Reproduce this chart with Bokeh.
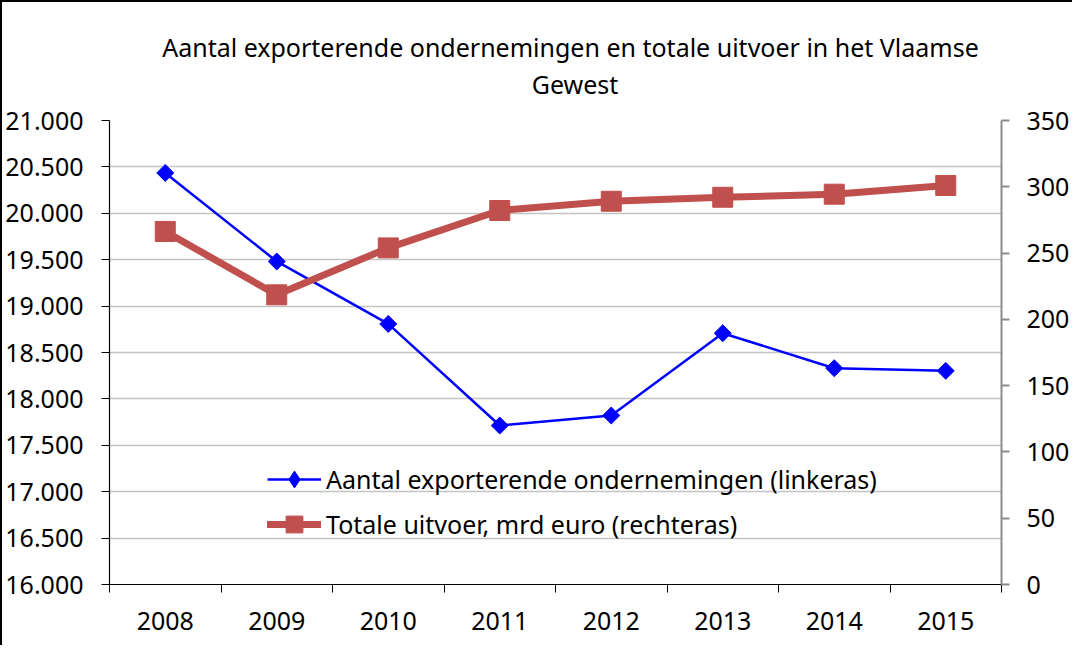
import math
from bokeh.plotting import figure
from bokeh.models import Range1d, LinearAxis, FixedTicker, Legend, LegendItem, Title
from bokeh.embed import file_html
from bokeh.resources import INLINE

# ---- data ----
years = [2008, 2009, 2010, 2011, 2012, 2013, 2014, 2015]
firms = [20435, 19481, 18808, 17713, 17821, 18708, 18331, 18302]          # left axis
exports = [266.3, 218.5, 253.9, 282.1, 289.1, 292.1, 294.4, 301.0]      # right axis, mrd euro

left_ticks = [16000, 16500, 17000, 17500, 18000, 18500, 19000, 19500, 20000, 20500, 21000]
left_labels = ["16.000", "16.500", "17.000", "17.500", "18.000", "18.500",
               "19.000", "19.500", "20.000", "20.500", "21.000"]
right_ticks = [0, 50, 100, 150, 200, 250, 300, 350]

title_line1 = "Aantal exporterende ondernemingen en totale uitvoer in het Vlaamse"
title_line2 = "Gewest"
series1_name = "Aantal exporterende ondernemingen (linkeras)"
series2_name = "Totale uitvoer, mrd euro (rechteras)"

FONT = "Noto Sans"
BLUE = "#0000FF"
RED = "#C0504D"
FS = "25px"

p = figure(width=1072, height=645, output_backend="svg", toolbar_location=None, title=None,
           x_range=Range1d(years[0] - 0.5, years[-1] + 0.5),
           y_range=Range1d(left_ticks[0], left_ticks[-1]),
           min_border_left=107, min_border_right=73, min_border_top=118, min_border_bottom=63)
p.extra_y_ranges = {"right": Range1d(right_ticks[0], right_ticks[-1])}
p.styles = {"border-left": "2px solid black", "border-top": "2px solid black"}
p.outline_line_color = None
p.background_fill_color = "white"
p.border_fill_color = "white"

# grid
p.xgrid.visible = False
p.ygrid.grid_line_color = "#C4C4C4"
p.ygrid.grid_line_width = 1.5

# left axis
ya = p.yaxis[0]
ya.ticker = FixedTicker(ticks=left_ticks)
ya.major_label_overrides = {t: s for t, s in zip(left_ticks, left_labels)}
ya.axis_line_color = "black"
ya.axis_line_width = 1.2
ya.major_tick_line_color = "black"
ya.major_tick_out = 8
ya.major_tick_in = 0
ya.minor_tick_line_color = None
ya.major_label_standoff = 18
ya.major_label_text_font = FONT
ya.major_label_text_font_size = FS
ya.major_label_text_color = "black"

# bottom axis (labels at the years, tick marks between the years)
xa = p.xaxis[0]
xa.ticker = FixedTicker(ticks=years, minor_ticks=[y - 0.5 for y in years] + [years[-1] + 0.5])
xa.axis_line_color = "black"
xa.axis_line_width = 1.2
xa.major_tick_out = 0
xa.major_tick_in = 0
xa.minor_tick_out = 8
xa.minor_tick_in = 0
xa.minor_tick_line_color = "black"
xa.minor_tick_line_width = 1
xa.major_label_standoff = 19
xa.major_label_text_font = FONT
xa.major_label_text_font_size = FS
xa.major_label_text_color = "black"

# right axis
ra = LinearAxis(y_range_name="right", ticker=FixedTicker(ticks=right_ticks))
ra.axis_line_color = "#8C8C8C"
ra.axis_line_width = 2
ra.major_tick_line_color = "#8C8C8C"
ra.major_tick_line_width = 2
ra.major_tick_out = 8
ra.major_tick_in = 0
ra.minor_tick_line_color = None
ra.major_label_standoff = 17
ra.major_label_text_font = FONT
ra.major_label_text_font_size = FS
ra.major_label_text_color = "black"
p.add_layout(ra, "right")

# series
bl = p.line(years, firms, line_color=BLUE, line_width=2.5)
bs = p.scatter(years, firms, marker="square", size=12, angle=math.pi / 4,
               fill_color=BLUE, line_color=BLUE)
rl = p.line(years, exports, y_range_name="right", line_color=RED, line_width=7,
            line_join="round", line_cap="round")
rs = p.scatter(years, exports, y_range_name="right", marker="square", size=20,
               fill_color=RED, line_color=RED)
# legend-only diamond marker (no visible points in the plot)
bd = p.scatter(x=[float("nan")], y=[float("nan")], marker="diamond",
               fill_color=BLUE, line_color=BLUE)

legend = Legend(items=[LegendItem(label=series1_name, renderers=[bl, bd]),
                       LegendItem(label=series2_name, renderers=[rl, rs])],
                location=(158, 39), orientation="vertical",
                border_line_color=None, background_fill_alpha=0,
                padding=0, margin=0, spacing=3,
                glyph_width=54, glyph_height=42, label_height=42, label_standoff=5,
                label_text_font=FONT, label_text_font_size=FS, label_text_color="black")
p.add_layout(legend)

# two-line title: second line sits closest to the plot
t2 = Title(text=title_line2, align="center", text_font=FONT,
           text_font_size="25px", text_font_style="normal", text_color="black",
           standoff=2, padding=dict(left=39, right=0, top=0, bottom=19))
p.add_layout(t2, "above")
t1 = Title(text=title_line1, align="center", text_font=FONT,
           text_font_size="25px", text_font_style="normal", text_color="black",
           standoff=0, padding=dict(left=30, right=0, top=0, bottom=0))
p.add_layout(t1, "above")

open("out.html", "w").write(file_html(p, INLINE))
